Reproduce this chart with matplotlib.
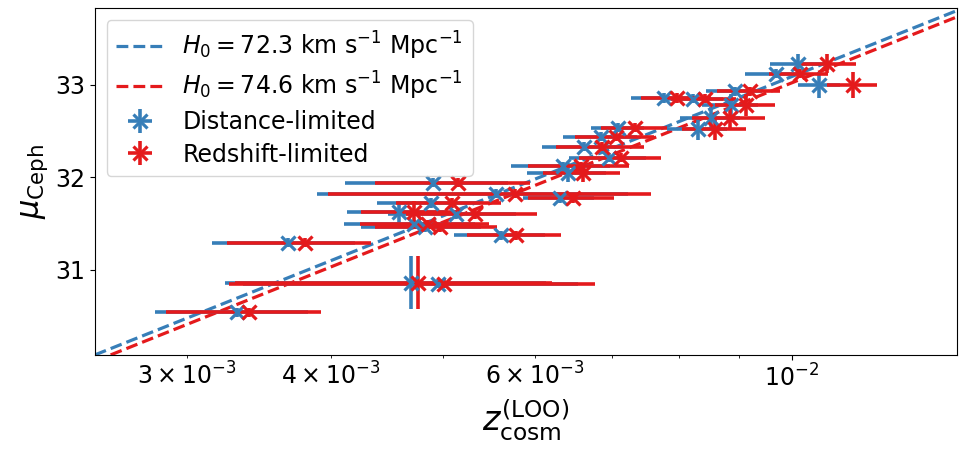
import numpy as np
import matplotlib
matplotlib.use("Agg")
import matplotlib.pyplot as plt

# Hubble lines
H0_values = [72.3, 74.6]
line_colors = ["#377eb8", "#e41a1c"]
c_kms = 299792.458

# Cepheid distance moduli and cosmological redshifts (LOO) per galaxy
mu_ceph = [30.54, 31.29, 30.86, 30.85, 31.94, 31.82, 31.775, 31.62, 31.60, 31.72,
           31.49, 31.46, 31.37, 32.12, 32.05, 32.33, 32.21, 32.44, 32.535, 32.856,
           32.85, 32.52, 32.64, 32.78, 32.93, 33.12, 33.23, 33.00]
mu_err = [0.05, 0.05, 0.29, 0.05, 0.05, 0.05, 0.05, 0.12, 0.05, 0.05,
          0.05, 0.05, 0.05, 0.05, 0.10, 0.05, 0.05, 0.05, 0.05, 0.05,
          0.05, 0.12, 0.12, 0.12, 0.05, 0.05, 0.10, 0.14]

# distance-limited sample (z in units of 1e-3)
z_dist = [3.32, 3.674, 4.69, 4.946, 4.903, 5.556, 6.305, 4.575, 5.133, 4.884,
          4.713, 4.817, 5.614, 6.346, 6.41, 6.616, 6.957, 6.845, 7.079, 7.758,
          8.218, 8.299, 8.516, 8.86, 8.93, 9.69, 10.12, 10.57]
zerr_dist = [0.50, 0.52, 1.45, 1.59, 0.79, 1.67, 0.45, 0.45, 0.65, 0.50,
             0.61, 0.57, 0.51, 0.62, 0.50, 0.53, 0.53, 0.50, 0.37, 0.49,
             0.50, 0.50, 0.50, 0.50, 0.50, 0.58, 0.55, 0.45]

# redshift-limited sample
z_red = [3.40, 3.794, 4.754, 5.012, 5.153, 5.768, 6.472, 4.713, 5.33, 5.083,
         4.855, 4.969, 5.779, 6.575, 6.603, 6.857, 7.124, 7.053, 7.322, 7.964,
         8.411, 8.585, 8.844, 9.13, 9.20, 10.16, 10.74, 11.29]
zerr_red = [0.52, 0.54, 1.45, 1.75, 0.79, 1.79, 0.55, 0.47, 0.69, 0.53,
            0.62, 0.60, 0.54, 0.66, 0.50, 0.60, 0.58, 0.55, 0.48, 0.55,
            0.55, 0.55, 0.64, 0.55, 0.58, 0.60, 0.63, 0.56]

plt.rcParams["font.size"] = 17

fig, ax = plt.subplots(figsize=(9.59, 4.49), dpi=100)
fig.subplots_adjust(left=0.099, right=0.998, bottom=0.21, top=0.982)

xmin, xmax = 2.5e-3, 1.39e-2
zz = np.geomspace(xmin, xmax, 200)
line_handles = []
for H0, col in zip(H0_values, line_colors):
    mu_line = 5 * np.log10(c_kms * zz / H0) + 25
    h, = ax.plot(zz, mu_line, "--", color=col, lw=2.3,
                 label=r"$H_0 = %.1f$ km s$^{-1}$ Mpc$^{-1}$" % H0)
    line_handles.append(h)

eb_kw = dict(fmt="x", ms=10, mew=2.3, elinewidth=2.6, capsize=0)
h1 = ax.errorbar(np.array(z_dist) * 1e-3, mu_ceph, xerr=np.array(zerr_dist) * 1e-3,
                 yerr=mu_err, color=line_colors[0], label="Distance-limited", **eb_kw)
h2 = ax.errorbar(np.array(z_red) * 1e-3, mu_ceph, xerr=np.array(zerr_red) * 1e-3,
                 yerr=mu_err, color=line_colors[1], label="Redshift-limited", **eb_kw)

ax.set_xscale("log")
ax.set_xlim(xmin, xmax)
ax.set_ylim(30.08, 33.83)
ax.set_yticks([31, 32, 33])
ax.set_xlabel(r"$z_{\rm cosm}^{\rm (LOO)}$", fontsize=24)
ax.set_ylabel(r"$\mu_{\rm Ceph}$", fontsize=22)
ax.legend(handles=line_handles + [h1, h2], loc="upper left", fontsize=17,
          labelspacing=0.35)

fig.savefig("out.png", dpi=100)
